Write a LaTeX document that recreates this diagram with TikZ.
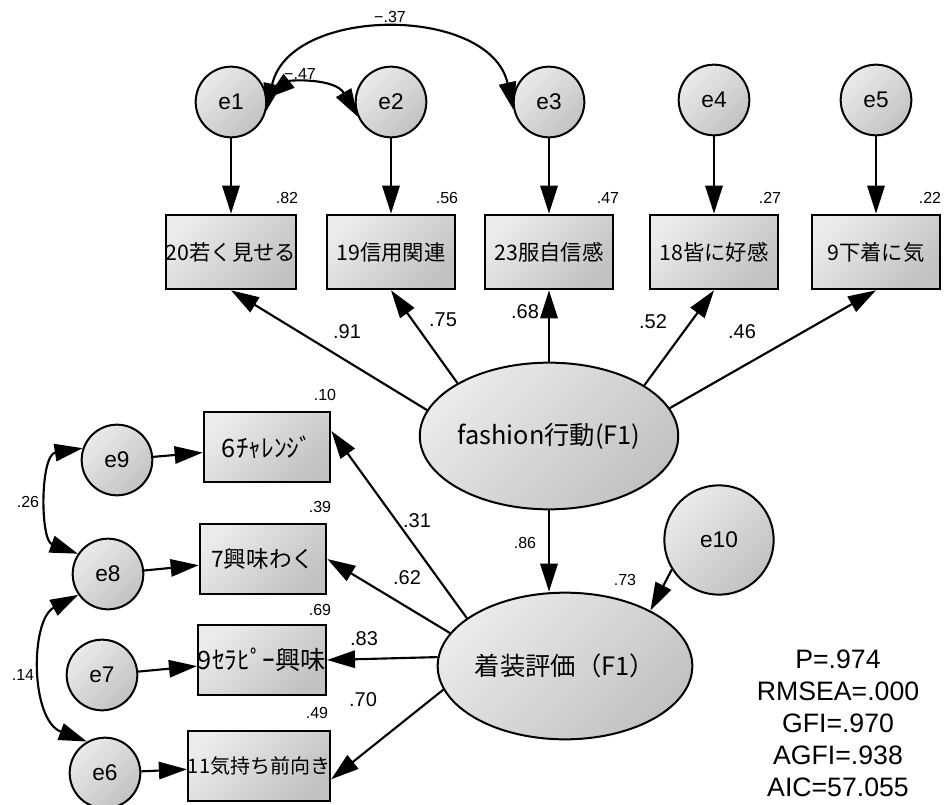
\documentclass[tikz,border=0pt]{standalone}
\usepackage{fontspec}
\setmainfont{Liberation Sans}
\newfontfamily\jpfont{Noto Sans CJK JP}
\usetikzlibrary{arrows.meta}
\usetikzlibrary{shapes.geometric}

\begin{document}
\begin{tikzpicture}[x=0.75pt,y=0.75pt,yscale=-1,xscale=1,
  >={Triangle[length=21pt,width=13pt]},
  shadefill/.style={draw, line width=1.5pt, top color=black!8, bottom color=black!24, shading angle=45},
  errvar/.style={shadefill, circle, inner sep=0pt, minimum size=53pt, font=\fontsize{17}{20}\selectfont},
  obsvar/.style={shadefill, rectangle, inner sep=0pt, minimum width=96pt, minimum height=56pt, font=\jpfont\fontsize{16}{19}\selectfont},
  latvar/.style={shadefill, ellipse, inner sep=0pt, minimum width=191pt, minimum height=110pt, font=\jpfont\fontsize{19}{22}\selectfont},
  link/.style={->, line width=1.6pt},
  covar/.style={<->, line width=1.6pt},
  coefbig/.style={inner sep=0.75pt, font=\fontsize{15}{18}\selectfont},
  coefsmall/.style={inner sep=0.75pt, font=\fontsize{12}{14}\selectfont}
]
\useasboundingbox (0,0) rectangle (944,805);

%Error terms (top row)
\node[errvar] (e1) at (231,102) {e1};
\node[errvar] (e2) at (391,102) {e2};
\node[errvar] (e3) at (549,102) {e3};
\node[errvar] (e4) at (714,100) {e4};
\node[errvar] (e5) at (876,100) {e5};

%Observed variables (top row)
\node[obsvar] (x20) at (231,252) {20若く見せる};
\node[obsvar] (x19) at (391,252) {19信用関連};
\node[obsvar] (x23) at (549,252) {23服自信感};
\node[obsvar] (x18) at (714,252) {18皆に好感};
\node[obsvar] (x9a) at (876,252) {9下着に気};

%Latent variables
\node[latvar] (f1) at (549,436) {fashion行動(F1)};
\node[latvar] (f2) at (565,666) {着装評価（F1）};
\node[errvar, minimum size=82pt] (e10) at (719,540) {e10};

%Observed variables (left column)
\node[obsvar, minimum width=95pt, minimum height=52pt, font=\jpfont\fontsize{19}{22}\selectfont] (x6) at (267,447) {6ﾁｬﾚﾝｼﾞ};
\node[obsvar, minimum width=95pt, minimum height=52pt, font=\jpfont\fontsize{17}{20}\selectfont] (x7) at (263,559) {7興味わく};
\node[obsvar, minimum width=95pt, minimum height=52pt, font=\jpfont\fontsize{19}{22}\selectfont] (x9b) at (262,660) {9ｾﾗﾋﾟｰ興味};
\node[obsvar, minimum width=95pt, minimum height=52pt, font=\jpfont\fontsize{15}{18}\selectfont] (x11) at (259,766) {11気持ち前向き};

%Error terms (left column)
\node[errvar] (e9) at (117,460) {e9};
\node[errvar] (e8) at (108,574) {e8};
\node[errvar] (e7) at (102,675) {e7};
\node[errvar] (e6) at (105,773) {e6};

%Straight Lines
\draw[link] (e1) -- (x20);
\draw[link] (e2) -- (x19);
\draw[link] (e3) -- (x23);
\draw[link] (e4) -- (x18);
\draw[link] (e5) -- (x9a);
\draw[link] (f1.168) -- (x20.south);
\draw[link] (f1.150) -- (x19.south);
\draw[link] (f1) -- (x23);
\draw[link] (f1.28) -- (x18.south);
\draw[link] (f1.13) -- (x9a.south);
\draw[link] (f1.south) -- (f1.south |- f2.north);
\draw[link] (e10.212) -- (f2.33);
\draw[link] (f2.154) -- ([yshift=-12pt]x6.east);
\draw[link] (f2.164) -- (x7.east);
\draw[link] (f2.176) -- (x9b.east);
\draw[link] (f2.191) -- ([yshift=10pt]x11.east);
\draw[link] (e9) -- (x6);
\draw[link] (e8) -- (x7);
\draw[link] (e7) -- (x9b);
\draw[link] (e6) -- (x11);

%Curve Lines
\draw[covar] (e1.-15) .. controls (290,5) and (490,5) .. (e3.193);
\draw[covar] (e1.6) .. controls (290,80) and (335,78) .. (e2.204);
\draw[covar] (e9.161) .. controls (40,455) and (40,540) .. (e8.146);
\draw[covar] (e8.215) .. controls (30,620) and (30,720) .. (e6.120);

% Text Node
\node[coefsmall] (c37) at (390,17) {−.37};
\node[coefsmall] (c47) at (300,74) {−.47};
\node[coefsmall] (c26) at (28,502) {.26};
\node[coefsmall] (c14) at (23,675) {.14};
% Text Node
\node[coefsmall] (r20) at (287,198) {.82};
\node[coefsmall] (r19) at (447,198) {.56};
\node[coefsmall] (r23) at (608,198) {.47};
\node[coefsmall] (r18) at (770,198) {.27};
\node[coefsmall] (r9a) at (930,198) {.22};
\node[coefsmall] (r6) at (325,395) {.10};
\node[coefsmall] (r7) at (320,507) {.39};
\node[coefsmall] (r9b) at (320,610) {.69};
\node[coefsmall] (r11) at (317,713) {.49};
\node[coefsmall] (r2) at (525,543) {.86};
\node[coefsmall] (rf2) at (625,580) {.73};
% Text Node
\node[coefbig] (l20) at (347,332) {.91};
\node[coefbig] (l19) at (443,320) {.75};
\node[coefbig] (l23) at (525,312) {.68};
\node[coefbig] (l18) at (653,322) {.52};
\node[coefbig] (l9a) at (742,332) {.46};
\node[coefbig] (l6) at (417,521) {.31};
\node[coefbig] (l7) at (407,578) {.62};
\node[coefbig] (l9b) at (364,639) {.83};
\node[coefbig] (l11) at (363,700) {.70};
% Text Node
\node[align=center, font=\fontsize{20}{24}\selectfont] (fit) at (838,723) {P=.974\\RMSEA=.000\\GFI=.970\\AGFI=.938\\AIC=57.055};

\end{tikzpicture}
\end{document}
